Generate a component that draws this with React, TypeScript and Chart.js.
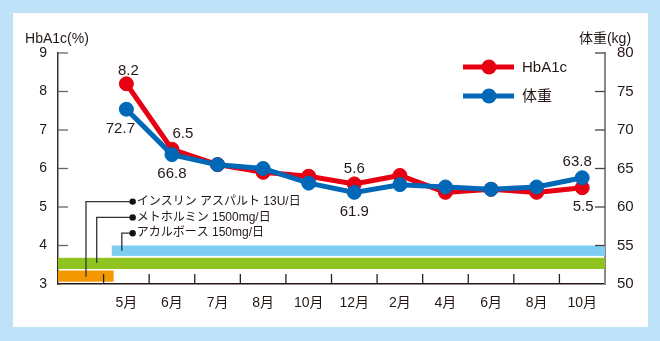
import React, { useEffect, useRef } from 'react';
import { Chart, registerables } from 'chart.js';

Chart.register(...registerables);

// ---- data ----
const months = ['', '5月', '6月', '7月', '8月', '10月', '12月', '2月', '4月', '6月', '8月', '10月'];
const hba1c = [null, 8.2, 6.5, 6.1, 5.9, 5.8, 5.6, 5.82, 5.38, 5.46, 5.38, 5.5];
const weight = [null, 72.7, 66.8, 65.5, 65.0, 63.1, 61.9, 62.9, 62.6, 62.3, 62.6, 63.8];
const hbaTicks = [3, 4, 5, 6, 7, 8, 9];
const weightTicks = [50, 55, 60, 65, 70, 75, 80];
const hbaLabeled = [1, 2, 6, 11];
const weightLabeled = [1, 2, 6, 11];
const treatments = ['インスリン アスパルト 13U/日', 'メトホルミン 1500mg/日', 'アカルボース 150mg/日'];
const treatmentSpans = [[-0.5, 0.72], [-0.5, 11.5], [0.68, 11.5]];
const seriesNames = ['HbA1c', '体重'];

// ---- styles ----
const FONT_NUM = "'Liberation Sans Narrow', 'Liberation Sans', 'Noto Sans CJK JP', sans-serif";
const FONT_JP = "'Liberation Sans', 'Noto Sans CJK JP', sans-serif";
const FONT_LEG = "'Liberation Sans', Arial, 'Noto Sans CJK JP', sans-serif";
const RED = '#E60012';
const BLUE = '#0068B7';
const TEXT = '#231815';
const BAND_COLORS = ['#F39800', '#8FC31F', '#7ECEF4'];
const BAND_Y = [[3.06, 3.35], [3.39, 3.68], [3.73, 4.0]];
const PTR_TEXT_Y = [5.14, 4.73, 4.32];
const PTR_X = [0.114, 0.349, 0.9];
const PTR_END = [3.19, 3.545, 3.865];
const PTR_DOT_X = 1.138;
const HBA_OFF: Record<number, [number, number]> = { 1: [2, -13], 2: [11, -15], 6: [0, -15], 11: [1, 19] };
const W_OFF: Record<number, [number, number]> = { 1: [-6, 20], 2: [0, 19], 6: [0, 19], 11: [-5, -16] };

const decor = {
  id: 'decor',
  beforeDraw(chart: any) {
    const { ctx, width, height } = chart;
    ctx.save();
    ctx.fillStyle = '#BEE3F8';
    ctx.fillRect(0, 0, width, height);
    ctx.fillStyle = '#ffffff';
    ctx.fillRect(13, 13, 635, 314);
    ctx.restore();
  },
  beforeDatasetsDraw(chart: any) {
    const { ctx } = chart;
    const xs = chart.scales.x;
    const ys = chart.scales.y;
    ctx.save();
    treatmentSpans.forEach((span, i) => {
      const x0 = xs.getPixelForValue(span[0]);
      const x1 = xs.getPixelForValue(span[1]);
      const y0 = ys.getPixelForValue(BAND_Y[i][1]);
      const y1 = ys.getPixelForValue(BAND_Y[i][0]);
      ctx.fillStyle = BAND_COLORS[i];
      ctx.fillRect(x0, y0, x1 - x0, y1 - y0);
    });
    ctx.strokeStyle = '#333';
    ctx.lineWidth = 1.3;
    treatments.forEach((t, i) => {
      const ty = ys.getPixelForValue(PTR_TEXT_Y[i]);
      const dx = xs.getPixelForValue(PTR_DOT_X);
      const vx = xs.getPixelForValue(PTR_X[i]);
      const ey = ys.getPixelForValue(PTR_END[i]);
      ctx.beginPath();
      ctx.moveTo(dx, ty);
      ctx.lineTo(vx, ty);
      ctx.lineTo(vx, ey);
      ctx.stroke();
      ctx.fillStyle = '#111';
      ctx.beginPath();
      ctx.arc(dx, ty, 3.2, 0, Math.PI * 2);
      ctx.fill();
      ctx.fillStyle = TEXT;
      ctx.font = `12px ${FONT_JP}`;
      ctx.textAlign = 'left';
      ctx.textBaseline = 'middle';
      ctx.fillText(t, dx + 4, ty);
    });
    ctx.restore();
  },
  afterDraw(chart: any) {
    const { ctx, chartArea } = chart;
    const xs = chart.scales.x;
    const ys = chart.scales.y;
    const yw = chart.scales.y1;
    ctx.save();
    ctx.lineWidth = 1.3;
    ctx.strokeStyle = '#666';
    hbaTicks.slice(1).forEach((v) => {
      const y = ys.getPixelForValue(v);
      ctx.beginPath();
      ctx.moveTo(chartArea.left, y);
      ctx.lineTo(chartArea.left + 10, y);
      ctx.stroke();
    });
    ctx.strokeStyle = '#444';
    weightTicks.slice(1).forEach((v) => {
      const y = yw.getPixelForValue(v);
      ctx.beginPath();
      ctx.moveTo(chartArea.right, y);
      ctx.lineTo(chartArea.right - 10, y);
      ctx.stroke();
    });
    ctx.strokeStyle = '#222';
    for (let i = 1; i < months.length; i++) {
      const x = xs.getPixelForValue(i - 0.5);
      ctx.beginPath();
      ctx.moveTo(x, chartArea.bottom);
      ctx.lineTo(x, chartArea.bottom - 10);
      ctx.stroke();
    }
    ctx.fillStyle = TEXT;
    ctx.font = `14px ${FONT_NUM}`;
    ctx.textAlign = 'center';
    ctx.textBaseline = 'middle';
    ctx.fillText('HbA1c(%)', chartArea.left - 1, 39);
    ctx.fillText('体重(kg)', chartArea.right, 39);
    ctx.font = `15px ${FONT_NUM}`;
    hbaLabeled.forEach((i) => {
      const v = hba1c[i] as number;
      const [ox, oy] = HBA_OFF[i];
      ctx.fillText(v.toFixed(1), xs.getPixelForValue(i) + ox, ys.getPixelForValue(v) + oy);
    });
    weightLabeled.forEach((i) => {
      const v = weight[i] as number;
      const [ox, oy] = W_OFF[i];
      ctx.fillText(v.toFixed(1), xs.getPixelForValue(i) + ox, yw.getPixelForValue(v) + oy);
    });
    const legendColors = [RED, BLUE];
    const legendY = [67, 96];
    seriesNames.forEach((name, i) => {
      const y = legendY[i];
      ctx.strokeStyle = legendColors[i];
      ctx.lineWidth = 5;
      ctx.beginPath();
      ctx.moveTo(463, y);
      ctx.lineTo(514, y);
      ctx.stroke();
      ctx.fillStyle = legendColors[i];
      ctx.beginPath();
      ctx.arc(489, y, 7.5, 0, Math.PI * 2);
      ctx.fill();
      ctx.fillStyle = TEXT;
      ctx.font = `15px ${FONT_LEG}`;
      ctx.textAlign = 'left';
      ctx.fillText(name, 522, y + 1);
    });
    ctx.restore();
  },
};

export default function App() {
  const ref = useRef<HTMLCanvasElement | null>(null);
  useEffect(() => {
    if (!ref.current) return;
    const chart = new Chart(ref.current, {
      type: 'line',
      data: {
        labels: months,
        datasets: [
          {
            label: seriesNames[1],
            data: weight,
            yAxisID: 'y1',
            borderColor: BLUE,
            backgroundColor: BLUE,
            pointBackgroundColor: BLUE,
            pointBorderColor: BLUE,
            borderWidth: 5,
            pointRadius: 7,
            pointBorderWidth: 1,
            tension: 0,
            order: 0,
          },
          {
            label: seriesNames[0],
            data: hba1c,
            yAxisID: 'y',
            borderColor: RED,
            backgroundColor: RED,
            pointBackgroundColor: RED,
            pointBorderColor: RED,
            borderWidth: 5,
            pointRadius: 7,
            pointBorderWidth: 1,
            tension: 0,
            order: 1,
          },
        ],
      },
      options: {
        responsive: false,
        animation: false,
        devicePixelRatio: 1,
        layout: { padding: { left: 13, right: 13, top: 53, bottom: 14 } },
        plugins: { legend: { display: false }, tooltip: { enabled: false } },
        scales: {
          x: {
            type: 'category',
            offset: true,
            grid: { display: false, drawTicks: false, offset: true },
            border: { display: true, color: '#231815', width: 1.5 },
            ticks: { color: TEXT, font: { family: FONT_NUM, size: 14 }, padding: 11, maxRotation: 0, autoSkip: false },
            afterFit: (s: any) => { s.height = 43; },
          },
          y: {
            type: 'linear',
            position: 'left',
            min: 3,
            max: 9,
            grid: { display: false, drawTicks: false },
            border: { display: true, color: '#333', width: 1.5 },
            ticks: { color: TEXT, font: { family: FONT_NUM, size: 14 }, padding: 11 },
            afterBuildTicks: (s: any) => { s.ticks = hbaTicks.map((v) => ({ value: v })); },
            afterFit: (s: any) => { s.width = 45; },
          },
          y1: {
            type: 'linear',
            position: 'right',
            min: 50,
            max: 80,
            grid: { display: false, drawTicks: false },
            border: { display: true, color: '#8a8a8a', width: 2 },
            ticks: { color: TEXT, font: { family: FONT_NUM, size: 15 }, padding: 12 },
            afterBuildTicks: (s: any) => { s.ticks = weightTicks.map((v) => ({ value: v })); },
            afterFit: (s: any) => { s.width = 42; },
          },
        },
      },
      plugins: [decor],
    } as any);
    return () => chart.destroy();
  }, []);
  return (
    <div style={{ position: 'absolute', left: 0, top: 0, width: 660, height: 341 }}>
      <canvas ref={ref} width={660} height={341} style={{ width: 660, height: 341, display: 'block' }} />
    </div>
  );
}
